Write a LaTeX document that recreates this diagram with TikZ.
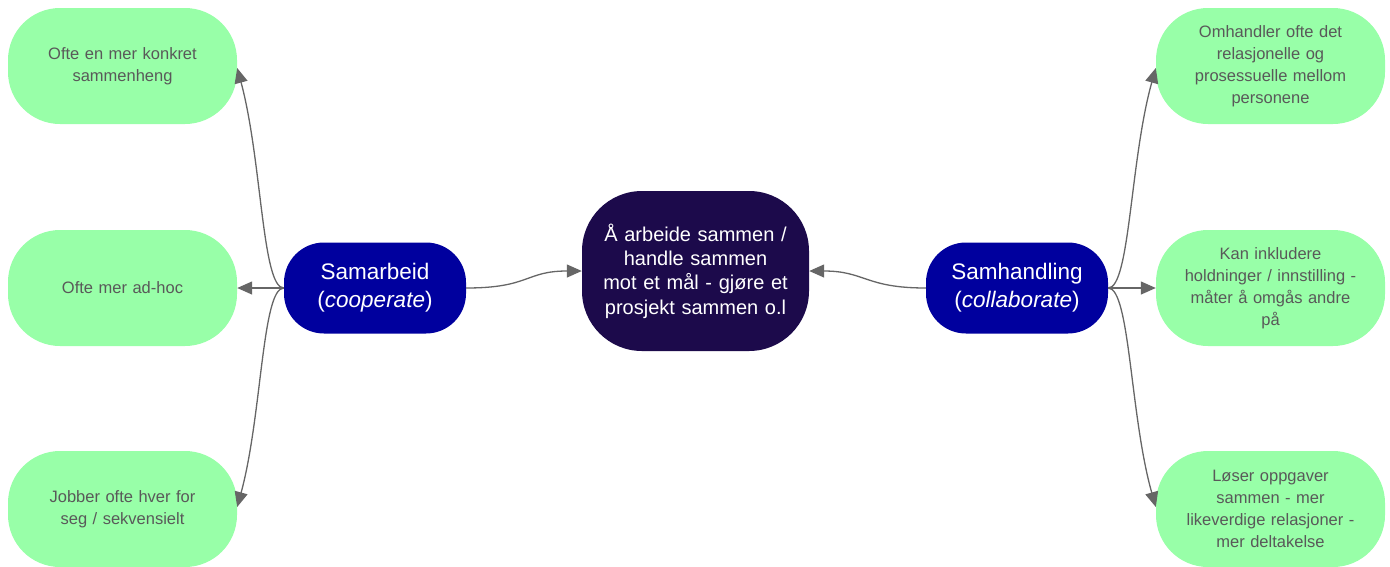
\documentclass[tikz,border=0pt]{standalone}
\usepackage{fontspec}
\setmainfont{Liberation Sans}
\usetikzlibrary{arrows.meta}
\definecolor{leafgreen}{HTML}{98FFA8}
\definecolor{leaftext}{HTML}{595959}
\definecolor{midblue}{HTML}{00009E}
\definecolor{darkcore}{HTML}{1C0A4B}
\definecolor{linkgray}{HTML}{666666}
\begin{document}
\begin{tikzpicture}[x=1pt,y=1pt,
  leaf/.style={draw=none, fill=leafgreen, rounded corners=52pt, minimum width=229pt, minimum height=116pt, inner sep=0pt, text width=210pt, align=center, text=leaftext, font=\fontsize{16.5}{22}\selectfont},
  mid/.style={draw=none, fill=midblue, rounded corners=40pt, minimum width=182pt, minimum height=91pt, inner sep=0pt, text width=175pt, align=center, text=white, font=\fontsize{22.5}{28}\selectfont},
  core/.style={draw=none, fill=darkcore, rounded corners=60pt, minimum width=227pt, minimum height=160pt, inner sep=0pt, text width=220pt, align=center, text=white, font=\fontsize{20}{24.3}\selectfont},
  link/.style={draw=linkgray, line width=1.3pt, -{Triangle[length=15pt,width=13pt]}}
]
\useasboundingbox (0,0) rectangle (1390,-566);
\node[core] (c) at (695.5,-271) {Å arbeide sammen /\\handle sammen\\mot et mål - gjøre et\\prosjekt sammen o.l};
\node[mid] (l) at (375,-288) {Samarbeid\\(\textit{cooperate})};
\node[mid] (r) at (1017,-288) {Samhandling\\(\textit{collaborate})};
\node[leaf] (l1) at (122.5,-66) {Ofte en mer konkret\\sammenheng};
\node[leaf] (l2) at (122.5,-288) {Ofte mer ad-hoc};
\node[leaf] (l3) at (122.5,-509) {Jobber ofte hver for\\seg / sekvensielt};
\node[leaf] (r1) at (1270.5,-66) {Omhandler ofte det\\relasjonelle og\\prosessuelle mellom\\personene};
\node[leaf] (r2) at (1270.5,-288) {Kan inkludere\\holdninger / innstilling -\\måter å omgås andre\\på};
\node[leaf] (r3) at (1270.5,-509) {Løser oppgaver\\sammen - mer\\likeverdige relasjoner -\\mer deltakelse};
\coordinate (lo) at (l.west);
\coordinate (ro) at (r.east);
\draw[link] (lo) .. controls (262,-288) and (262,-160) .. ([yshift=-2pt]l1.east);
\draw[link] (lo) -- (l2.east);
\draw[link] (lo) .. controls (262,-288) and (262,-416) .. ([yshift=2pt]l3.east);
\draw[link] (ro) .. controls (1130,-288) and (1130,-160) .. ([yshift=-2pt]r1.west);
\draw[link] (ro) -- (r2.west);
\draw[link] (ro) .. controls (1130,-288) and (1130,-416) .. ([yshift=2pt]r3.west);
\draw[link] (l.east) .. controls (530,-288) and (525,-271) .. (c.west);
\draw[link] (r.west) .. controls (865,-288) and (865,-271) .. (c.east);
\end{tikzpicture}
\end{document}
